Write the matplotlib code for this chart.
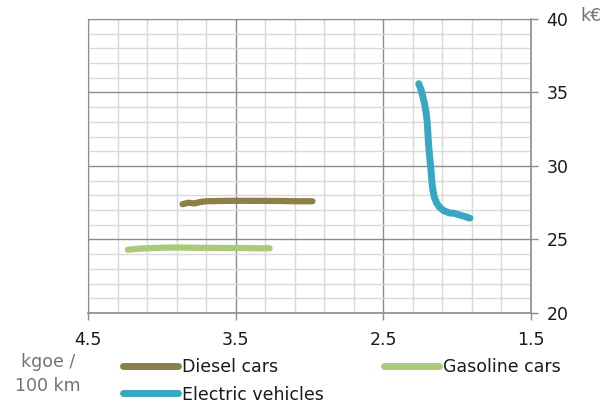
import matplotlib.pyplot as plt
from matplotlib.ticker import MultipleLocator

plt.rcParams["font.family"] = ["DejaVu Sans"]

# energy use (kgoe / 100 km) vs. price (k€)
diesel_x = [3.86, 3.82, 3.78, 3.74, 3.70, 3.60, 3.50, 3.40, 3.30, 3.20, 3.10, 2.98]
diesel_y = [27.4, 27.5, 27.45, 27.55, 27.6, 27.62, 27.63, 27.63, 27.62, 27.62, 27.6, 27.6]

gasoline_x = [4.23, 4.15, 4.05, 3.95, 3.85, 3.75, 3.65, 3.55, 3.45, 3.35, 3.27]
gasoline_y = [24.3, 24.38, 24.42, 24.45, 24.45, 24.43, 24.43, 24.42, 24.42, 24.4, 24.4]

ev_x = [2.26, 2.245, 2.232, 2.22, 2.21, 2.203, 2.198, 2.193, 2.186, 2.178, 2.172,
        2.165, 2.155, 2.14, 2.12, 2.09, 2.05, 2.02, 1.995, 1.96, 1.914]
ev_y = [35.6, 35.2, 34.7, 34.2, 33.6, 33.0, 32.2, 31.4, 30.6, 29.8, 29.0,
        28.4, 27.9, 27.5, 27.2, 26.95, 26.8, 26.78, 26.7, 26.6, 26.45]

x_ticks = [4.5, 3.5, 2.5, 1.5]
y_ticks = [20, 25, 30, 35, 40]

fig = plt.figure(figsize=(6.15, 4.07), dpi=100)
ax = fig.add_axes([0.1431, 0.2310, 0.7203, 0.7224])

ax.plot(diesel_x, diesel_y, color="#8c7f48", lw=4.5, solid_capstyle="round",
        solid_joinstyle="round", label="Diesel cars", zorder=3)
ax.plot(ev_x, ev_y, color="#3aa7c2", lw=5, solid_capstyle="round",
        solid_joinstyle="round", label="Electric vehicles", zorder=3)
ax.plot(gasoline_x, gasoline_y, color="#a9ca78", lw=4.5, solid_capstyle="round",
        solid_joinstyle="round", label="Gasoline cars", zorder=3)

ax.set_xlim(4.5, 1.5)
ax.set_ylim(20, 40)
ax.set_xticks(x_ticks)
ax.set_xticklabels([str(v) for v in x_ticks])
ax.set_yticks(y_ticks)
ax.xaxis.set_minor_locator(MultipleLocator(0.2, offset=0.1))
ax.yaxis.set_minor_locator(MultipleLocator(1))

ax.grid(which="major", color="#8c8c8c", lw=1.0, zorder=1)
ax.grid(which="minor", color="#d9d9d9", lw=1.0, zorder=0)
ax.set_axisbelow(True)

ax.yaxis.tick_right()
ax.tick_params(which="major", length=5, width=1, color="#8c8c8c", labelsize=12.5,
               labelcolor="#1a1a1a", pad=6)
ax.tick_params(axis="x", pad=8)
ax.tick_params(which="minor", length=0)
for side in ["left", "top"]:
    ax.spines[side].set_color("#8c8c8c")
for side in ["right", "bottom"]:
    ax.spines[side].set_color("#8c8c8c")
    ax.spines[side].set_linewidth(1.2)

fig.text(580 / 615, 1 - 16 / 407, "k€", fontsize=12.5, color="#737373", va="center", ha="left")
fig.text(48 / 615, 1 - 362 / 407, "kgoe /", fontsize=12.5, color="#737373", va="center", ha="center")
fig.text(48 / 615, 1 - 386 / 407, "100 km", fontsize=12.5, color="#737373", va="center", ha="center")

leg = fig.legend(loc="upper left", bbox_to_anchor=(123 / 615, 1 - 358 / 407), ncol=2,
                 frameon=False, fontsize=12.5, handlelength=3.15, handletextpad=0.22,
                 columnspacing=3.5, labelspacing=0.55, borderpad=0, borderaxespad=0)
for t in leg.get_texts():
    t.set_color("#1a1a1a")
for h in leg.get_lines():
    h.set_linewidth(5)

fig.savefig("out.png", dpi=100)
